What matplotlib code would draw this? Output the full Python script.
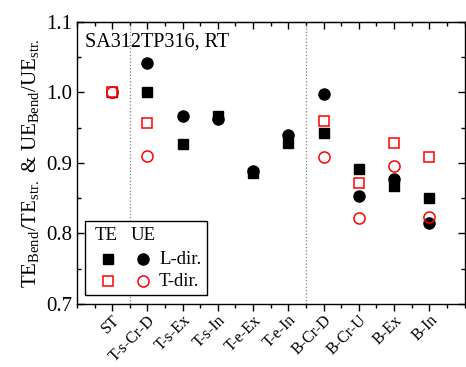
import matplotlib.pyplot as plt
from matplotlib.patches import Rectangle
from matplotlib.ticker import MultipleLocator

plt.rcParams['font.family'] = ['Liberation Serif', 'DejaVu Serif']
plt.rcParams['mathtext.fontset'] = 'custom'
plt.rcParams['mathtext.rm'] = 'Liberation Serif'

categories = ['ST', 'T-s-Cr-D', 'T-s-Ex', 'T-s-In', 'T-e-Ex', 'T-e-In',
              'B-Cr-D', 'B-Cr-U', 'B-Ex', 'B-In']
te_L = [1.000, 1.000, 0.927, 0.966, 0.886, 0.929, 0.943, 0.891, 0.867, 0.850]
ue_L = [1.000, 1.042, 0.967, 0.963, 0.889, 0.940, 0.998, 0.853, 0.877, 0.815]
te_T = [1.000, 0.956, None, None, None, None, 0.960, 0.871, 0.928, 0.908]
ue_T = [1.000, 0.910, None, None, None, None, 0.909, 0.822, 0.895, 0.824]

x = list(range(len(categories)))

fig, ax = plt.subplots(figsize=(4.66, 3.67), dpi=100)
fig.subplots_adjust(left=0.165, right=0.997, top=0.94, bottom=0.172)

def pts(vals):
    xs = [i for i, v in zip(x, vals) if v is not None]
    ys = [v for v in vals if v is not None]
    return xs, ys

ax.plot(*pts(te_L), 's', color='black', ms=7, ls='none')
ax.plot(*pts(ue_L), 'o', color='black', ms=8, ls='none')
ax.plot(*pts(te_T), 's', mfc='white', mec='red', mew=1.1, ms=7, ls='none')
ax.plot(*pts(ue_T), 'o', mfc='none', mec='red', mew=1.1, ms=8, ls='none')

ax.axvline(0.5, color='gray', ls=':', lw=0.9)
ax.axvline(5.5, color='gray', ls=':', lw=0.9)

ax.set_xlim(-1, 10)
ax.set_ylim(0.7, 1.1)
ax.set_xticks(x)
ax.set_xticklabels(categories, rotation=45, ha='right', rotation_mode='anchor', fontsize=11.5)
ax.xaxis.set_minor_locator(MultipleLocator(0.5))
ax.yaxis.set_major_locator(MultipleLocator(0.1))
ax.yaxis.set_minor_locator(MultipleLocator(0.05))
ax.yaxis.set_major_formatter(plt.FormatStrFormatter('%.1f'))
ax.tick_params(axis='y', which='both', direction='in', right=True, labelsize=15)
ax.tick_params(axis='x', which='both', direction='out', pad=1)
ax.tick_params(which='major', length=5, width=1)
ax.tick_params(which='minor', length=3, width=1)
# top ticks pointing inward
sec = ax.secondary_xaxis('top')
sec.set_xticks(x)
sec.xaxis.set_minor_locator(MultipleLocator(0.5))
sec.tick_params(which='both', direction='in', labeltop=False)
sec.tick_params(which='major', length=5, width=1)
sec.tick_params(which='minor', length=3, width=1)
for s in ax.spines.values():
    s.set_linewidth(1)

ax.set_ylabel(r'TE$_{\mathrm{Bend}}$/TE$_{\mathrm{str.}}$ & UE$_{\mathrm{Bend}}$/UE$_{\mathrm{str.}}$',
              fontsize=15, labelpad=3)
ax.text(0.02, 0.93, 'SA312TP316, RT', transform=ax.transAxes, fontsize=14.5, va='center')

# custom legend
ax.add_patch(Rectangle((0.021, 0.032), 0.314, 0.263, transform=ax.transAxes,
                       fill=True, fc='white', ec='black', lw=1, zorder=5))
ax.text(0.075, 0.242, 'TE', transform=ax.transAxes, fontsize=13.5, ha='center', va='center', zorder=6)
ax.text(0.17, 0.242, 'UE', transform=ax.transAxes, fontsize=13.5, ha='center', va='center', zorder=6)
ax.plot([0.08], [0.158], 's', color='black', ms=7, transform=ax.transAxes, zorder=6)
ax.plot([0.17], [0.158], 'o', color='black', ms=8, transform=ax.transAxes, zorder=6)
ax.plot([0.08], [0.08], 's', mfc='white', mec='red', mew=1.1, ms=7, transform=ax.transAxes, zorder=6)
ax.plot([0.17], [0.08], 'o', mfc='white', mec='red', mew=1.1, ms=8, transform=ax.transAxes, zorder=6)
ax.text(0.212, 0.158, 'L-dir.', transform=ax.transAxes, fontsize=13.5, va='center', zorder=6)
ax.text(0.212, 0.08, 'T-dir.', transform=ax.transAxes, fontsize=13.5, va='center', zorder=6)

fig.savefig('out.png', dpi=100)
